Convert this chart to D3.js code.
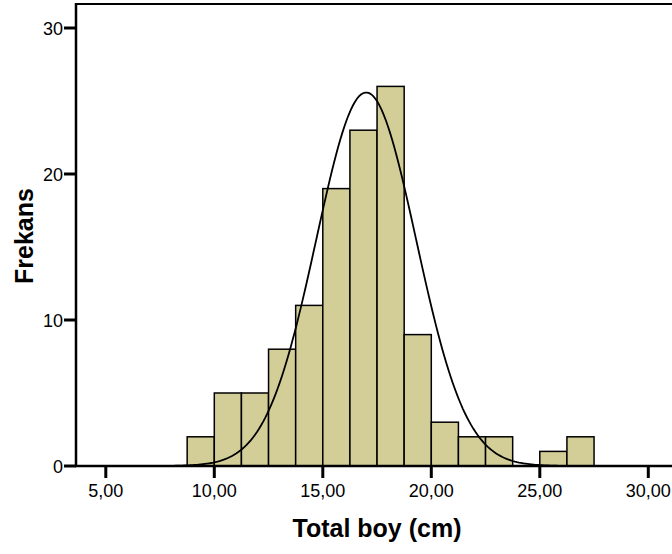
<!DOCTYPE html>
<html>
<head>
<meta charset="utf-8">
<script src="https://cdn.jsdelivr.net/npm/d3@7"></script>
<style>
  body { margin: 0; background: #fff; }
  text { font-family: Arial, "Liberation Sans", sans-serif; }
</style>
</head>
<body>
<div id="chart"></div>
<script>
// histogram bins (cm) and counts
var binStarts = [8.75, 10, 11.25, 12.5, 13.75, 15, 16.25, 17.5, 18.75, 20, 21.25, 22.5, 23.75, 25, 26.25];
var binWidth = 1.25;
var counts = [2, 5, 5, 8, 11, 19, 23, 26, 9, 3, 2, 2, 0, 1, 2];
var xTicks = [5, 10, 15, 20, 25, 30];
var yTicks = [0, 10, 20, 30];

// normal curve parameters (estimated)
var curveMean = 17.0;
var curveSd = 2.3;
var sampleSize = d3.sum(counts);

var width = 672, height = 554;
var frame = { left: 76, top: 4, right: 700, bottom: 466 };

var svg = d3.select("#chart").append("svg")
    .attr("width", width)
    .attr("height", height);

var x = d3.scaleLinear().domain([5, 30]).range([105.8, 648.3]);
var y = d3.scaleLinear().domain([0, 30]).range([466, 28]);

var locale = d3.formatLocale({ decimal: ",", thousands: ".", grouping: [3], currency: ["", ""] });
var fmt = locale.format(".2f");

svg.append("clipPath").attr("id", "plotClip")
  .append("rect")
    .attr("x", frame.left).attr("y", frame.top)
    .attr("width", frame.right - frame.left)
    .attr("height", frame.bottom - frame.top);

// bars (empty bins are skipped)
var bins = binStarts.map(function (s, i) { return { start: s, count: counts[i] }; })
    .filter(function (b) { return b.count > 0; });

svg.append("g").selectAll("rect")
    .data(bins)
    .enter().append("rect")
    .attr("x", function (d) { return x(d.start); })
    .attr("y", function (d) { return y(d.count); })
    .attr("width", function (d) { return x(d.start + binWidth) - x(d.start); })
    .attr("height", function (d) { return y(0) - y(d.count); })
    .attr("fill", "#d3ce97")
    .attr("stroke", "#000")
    .attr("stroke-width", 1.5);

// normal curve
var lo = x.invert(frame.left), hi = x.invert(frame.right);
var curvePts = d3.range(0, 301).map(function (k) {
    var v = lo + (hi - lo) * k / 300;
    var z = (v - curveMean) / curveSd;
    var dens = sampleSize * binWidth / (curveSd * Math.sqrt(2 * Math.PI)) * Math.exp(-0.5 * z * z);
    return [x(v), y(dens)];
});
svg.append("path")
    .attr("clip-path", "url(#plotClip)")
    .attr("d", d3.line()(curvePts))
    .attr("fill", "none")
    .attr("stroke", "#000")
    .attr("stroke-width", 1.8);

// frame lines
svg.append("line")
    .attr("x1", frame.left).attr("x2", frame.right)
    .attr("y1", frame.top).attr("y2", frame.top)
    .attr("stroke", "#000").attr("stroke-width", 2);
svg.append("line")
    .attr("x1", frame.left).attr("x2", frame.left)
    .attr("y1", frame.top - 1).attr("y2", frame.bottom + 1)
    .attr("stroke", "#000").attr("stroke-width", 2.5);
svg.append("line")
    .attr("x1", frame.left - 1).attr("x2", frame.right)
    .attr("y1", frame.bottom).attr("y2", frame.bottom)
    .attr("stroke", "#000").attr("stroke-width", 2.5);

// y ticks
var yg = svg.append("g");
yg.selectAll("line").data(yTicks).enter().append("line")
    .attr("x1", frame.left - 12).attr("x2", frame.left)
    .attr("y1", y).attr("y2", y)
    .attr("stroke", "#000").attr("stroke-width", 3);
yg.selectAll("text").data(yTicks).enter().append("text")
    .attr("x", frame.left - 13)
    .attr("y", function (d) { return y(d) + 6.5; })
    .attr("text-anchor", "end")
    .attr("font-size", 18)
    .text(function (d) { return d; });

// x ticks
var xg = svg.append("g");
xg.selectAll("line").data(xTicks).enter().append("line")
    .attr("x1", x).attr("x2", x)
    .attr("y1", frame.bottom).attr("y2", frame.bottom + 12)
    .attr("stroke", "#000").attr("stroke-width", 3);
xg.selectAll("text").data(xTicks).enter().append("text")
    .attr("x", x)
    .attr("y", 497)
    .attr("text-anchor", "middle")
    .attr("font-size", 18)
    .text(function (d) { return fmt(d); });

// axis titles
svg.append("text")
    .attr("x", 377).attr("y", 537)
    .attr("text-anchor", "middle")
    .attr("font-size", 25)
    .attr("font-weight", "bold")
    .text("Total boy (cm)");
svg.append("text")
    .attr("transform", "translate(33,236) rotate(-90)")
    .attr("text-anchor", "middle")
    .attr("font-size", 25)
    .attr("font-weight", "bold")
    .text("Frekans");
</script>
</body>
</html>
